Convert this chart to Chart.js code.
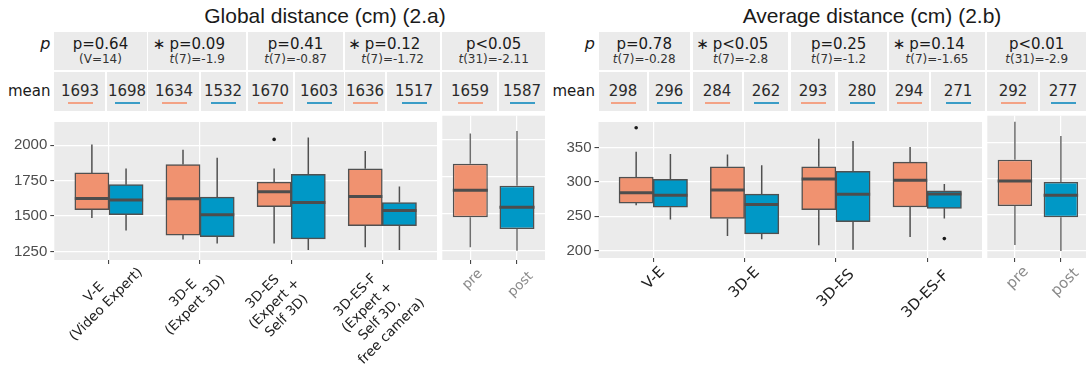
<!DOCTYPE html>
<html><head><meta charset="utf-8">
<script src="https://cdn.jsdelivr.net/npm/chart.js@4.4.1/dist/chart.umd.min.js"></script>
<style>
html,body{margin:0;padding:0;background:#fff;}
#root{position:relative;width:1086px;height:374px;overflow:hidden;font-family:"DejaVu Sans",sans-serif;}
.cell,.ul{position:absolute;background:#EBEBEB;}
.t{position:absolute;line-height:1;white-space:nowrap;color:#1A1A1A;}
.ast{position:absolute;right:100%;margin-right:4px;top:0;}
canvas{position:absolute;}
</style></head><body><div id="root"></div>
<script>
// ---------------- DATA ----------------
const categories = ['V-E','3D-E','3D-ES','3D-ES-F'];
const globalLabels = [['V-E','(Video Expert)'],['3D-E','(Expert 3D)'],['3D-ES','(Expert +','Self 3D)'],['3D-ES-F','(Expert +','Self 3D,','free camera)']];
const averageLabels = ['V-E','3D-E','3D-ES','3D-ES-F'];
const phaseLabels = ['pre','post'];
const globalTicks = [1250,1500,1750,2000];
const averageTicks = [200,250,300,350];
// five-number summaries: [lower whisker, Q1, median, Q3, upper whisker]
const globalPre  = [[1486,1545,1624,1804,2005],[1333,1365,1622,1863,1968],[1306,1566,1671,1739,1836],[1279,1432,1637,1833,1959]];
const globalPost = [[1397,1509,1613,1721,1836],[1306,1353,1509,1633,1912],[1259,1338,1595,1795,2054],[1259,1432,1538,1595,1709]];
const globalPreOut  = [[],[],[2041],[]];
const globalPostOut = [[],[],[],[]];
const globalPhase = [[1275,1478,1660,1840,2043],[1252,1399,1545,1691,2061]];
const averagePre  = [[266,269,284,307,344],[221,246.5,288,322,340],[207.5,259.6,304,322,362.7],[219.6,263.3,302.3,328.7,350.6]];
const averagePost = [[245,263,280.5,303.6,340.4],[216.4,224.2,267,282,324],[201,241.9,282,315.3,359.4],[246.5,261.4,282.3,287,296.7]];
const averagePreOut  = [[378.8],[],[],[]];
const averagePostOut = [[],[],[],[217.3]];
const averagePhase = [[207,261.4,296.2,326,378.8],[198.8,245.7,276.3,295,359]];
// strip texts
const globalP = ['p=0.64','p=0.09','p=0.41','p=0.12','p<0.05'];
const globalStat = ['(V=14)','t(7)=-1.9','t(7)=-0.87','t(7)=-1.72','t(31)=-2.11'];
const globalStar = [false,true,false,true,false];
const globalMeanPre  = [1693,1634,1670,1636,1659];
const globalMeanPost = [1698,1532,1603,1517,1587];
const averageP = ['p=0.78','p<0.05','p=0.25','p=0.14','p<0.01'];
const averageStat = ['t(7)=-0.28','t(7)=-2.8','t(7)=-1.2','t(7)=-1.65','t(31)=-2.9'];
const averageStar = [false,true,false,true,false];
const averageMeanPre  = [298,284,293,294,292];
const averageMeanPost = [296,262,280,271,277];

// ---------------- STYLE / LAYOUT ----------------
const ORANGE = '#F09270', BLUE = '#0098C6';
const UL_ORANGE = '#F3A285', UL_BLUE = '#3A9CC6';
const PANEL_TOP = 115.7, CANVAS_TOP = 110;
const HALVES = [
  { ox:0, title:'Global distance (cm) (2.a)', titleX:325, rowLabelRight:50.5,
    main:{left:54.3,right:440,bottom:260}, side:{left:442.3,right:545,bottom:260,max:1.6},
    yMin:1189, yMax:2164, ticks:globalTicks,
    pCells:[[54.3,146.6],[148.4,246],[247.7,343.5],[345.2,440],[442.3,545]],
    mCells:[[54.3,104.8],[106.6,146.6],[148.4,198.9],[200.6,246],[247.7,293],[295,343.5],[345.2,385.3],[387,440],[442.3,496.8],[498.5,545]],
    P:globalP, stat:globalStat, star:globalStar, mPre:globalMeanPre, mPost:globalMeanPost,
    pre:globalPre, post:globalPost, preOut:globalPreOut, postOut:globalPostOut, phase:globalPhase,
    labels:globalLabels, labelFont:13.5, lh:17,
    mainLabelPos:[[-8.7,38.5],[-10.7,39.5],[-16.4,44],[-8.7,53.5]], sideLabelPos:[[2.2,19.5],[3.7,24.5]] },
  { ox:545, title:'Average distance (cm)  (2.b)', titleX:872, rowLabelRight:595,
    main:{left:598.5,right:985,bottom:258}, side:{left:987.3,right:1086,bottom:258,max:1.546},
    yMin:189, yMax:387.2, ticks:averageTicks,
    pCells:[[598.5,689.9],[692.7,788.3],[790.7,886.6],[889,985],[987.3,1086]],
    mCells:[[598.5,646.8],[648.5,689.9],[692.7,741.7],[744.1,788.3],[790.7,834.9],[837.6,886.6],[889,928.7],[930.8,985],[987.3,1037.8],[1040.2,1086]],
    P:averageP, stat:averageStat, star:averageStar, mPre:averageMeanPre, mPost:averageMeanPost,
    pre:averagePre, post:averagePost, preOut:averagePreOut, postOut:averagePostOut, phase:averagePhase,
    labels:averageLabels, labelFont:15, lh:17,
    mainLabelPos:[[0.7,20.5],[0,24.7],[0,30.3],[-1.6,36.5]], sideLabelPos:[[2.7,20],[4.4,24.5]] }
];

const root = document.getElementById('root');
function el(cls, l, t, w, h, bg){ const d=document.createElement('div'); d.className=cls; d.style.left=l+'px'; d.style.top=t+'px'; d.style.width=w+'px'; d.style.height=h+'px'; if(bg) d.style.background=bg; root.appendChild(d); return d; }
function txt(html, x, base, fs, align, extra){
  const s=document.createElement('span'); s.className='t'; s.innerHTML=html;
  s.style.fontSize=fs+'px'; s.style.top=(base-0.846*fs)+'px'; s.style.left=x+'px';
  s.style.transform = align==='center'?'translateX(-50%)':(align==='right'?'translateX(-100%)':'none');
  if(extra) Object.assign(s.style, extra);
  root.appendChild(s); return s;
}
function addCanvas(l,t,w,h){ const c=document.createElement('canvas'); c.width=w; c.height=h; c.style.left=l+'px'; c.style.top=t+'px'; c.style.width=w+'px'; c.style.height=h+'px'; root.appendChild(c); return c; }

const panelBg = { id:'panelBg', beforeDraw(c){ const a=c.chartArea, x=c.ctx; x.save(); x.fillStyle='#EBEBEB'; x.fillRect(a.left,a.top,a.right-a.left,a.bottom-a.top); x.restore(); } };
// rotated, multi-line (centred) category labels; block centre placed relative to the tick
function xLabelPlugin(labels, colors, fs, lh, pos){
  return { id:'xlabels', afterDraw(chart){
    const ctx=chart.ctx, sx=chart.scales.x, a=chart.chartArea;
    ctx.save(); ctx.font=fs+'px "DejaVu Sans"'; ctx.textAlign='center'; ctx.textBaseline='middle';
    labels.forEach((lab,i)=>{
      const lines=[].concat(lab), n=lines.length;
      const cx=sx.getPixelForValue(i)+pos[i][0], cy=a.bottom+pos[i][1];
      ctx.save(); ctx.translate(cx,cy); ctx.rotate(-Math.PI/4); ctx.fillStyle=colors[i];
      lines.forEach((l,j)=>ctx.fillText(l,0,(j-(n-1)/2)*lh));
      ctx.restore();
    });
    ctx.restore();
  }};
}

function boxDatasets(groups, half, whiskerColor){
  const ds=[];
  groups.forEach(g=>{
    ds.push({type:'bar', data:g.summ.map((s,i)=>({x:i+g.offset, y:[s[1],s[3]]})), backgroundColor:g.color,
      borderColor:'#505050', borderWidth:1.5, borderSkipped:false, grouped:false, barPercentage:g.barPct, categoryPercentage:1, order:3});
    const wh=[]; g.summ.forEach((s,i)=>{ const x=i+g.offset; wh.push({x,y:s[0]},{x,y:s[1]},{x,y:null},{x,y:s[3]},{x,y:s[4]},{x,y:null}); });
    ds.push({type:'line', data:wh, borderColor:whiskerColor, borderWidth:1.5, pointRadius:0, spanGaps:false, fill:false, order:4});
    const md=[]; g.summ.forEach((s,i)=>{ const x=i+g.offset; md.push({x:x-half,y:s[2]},{x:x+half,y:s[2]},{x,y:null}); });
    ds.push({type:'line', data:md, borderColor:'#4D4D4D', borderWidth:3, borderCapStyle:'butt', pointRadius:0, spanGaps:false, fill:false, order:1});
    const out=[]; g.out.forEach((arr,i)=>arr.forEach(v=>out.push({x:i+g.offset,y:v})));
    if(out.length) ds.push({type:'scatter', data:out, pointRadius:1.8, pointBackgroundColor:'#1A1A1A', pointBorderWidth:0, order:0});
  });
  return ds;
}

function makeChart(canvas, o){
  return new Chart(canvas, {
    type:'bar',
    data:{datasets:o.datasets},
    options:{
      responsive:false, animation:false, events:[],
      layout:{padding:o.padding},
      plugins:{legend:{display:false}, tooltip:{enabled:false}},
      scales:{
        x:{type:'linear', min:o.xMin, max:o.xMax, offset:false,
           afterBuildTicks:s=>{ s.ticks=o.xTickVals.map(v=>({value:v})); },
           afterFit:s=>{ s.height=o.xHeight; },
           ticks:{callback:()=>'', maxRotation:0, autoSkip:false},
           grid:{offset:false, color:'#FFFFFF', lineWidth:1.2, drawTicks:true, tickLength:4, tickColor:'#333333', tickWidth:1},
           border:{display:false}},
        y:{type:'linear', min:o.yMin, max:o.yMax,
           afterBuildTicks:s=>{ s.ticks=o.yTicks.map(v=>({value:v})); },
           afterFit:s=>{ s.width=o.yWidth; },
           ticks:{display:o.showY, color:'#4D4D4D', font:{family:'Liberation Sans', size:15}, padding:3, callback:v=>String(v)},
           grid:{color:'#FFFFFF', lineWidth:1.2, drawTicks:o.showY, tickLength:4, tickColor:'#333333', tickWidth:1},
           border:{display:false}}
      }
    },
    plugins:[panelBg, xLabelPlugin(o.labels, o.labelColors, o.labelFont, o.lh, o.labelPos)]
  });
}

HALVES.forEach(h=>{
  txt(h.title, h.titleX, 22.3, 21, 'center', {fontFamily:'"Liberation Sans"', color:'#1A1A1A'});
  txt('p', h.rowLabelRight, 50, 16, 'right', {fontStyle:'italic'});
  txt('mean', h.rowLabelRight, 97, 15, 'right');
  h.pCells.forEach(([a,b],i)=>{
    el('cell', a, 32.3, b-a, 37.7);
    const cx=(a+b)/2;
    const s=txt(h.P[i], cx, 49.2, 15, 'center');
    if(h.star[i]){ const st=document.createElement('span'); st.className='ast'; st.textContent='\u2217'; s.appendChild(st); }
    txt(h.stat[i].replace(/^t/,'<i>t</i>'), cx, 63.5, 12, 'center', {color:'#333333'});
  });
  h.mCells.forEach(([a,b],k)=>{
    el('cell', a, 72.3, b-a, 38.4);
    const cx=Math.round((a+b)/2), i=Math.floor(k/2), isPre=(k%2===0);
    txt(String(isPre?h.mPre[i]:h.mPost[i]), cx, 97, 15, 'center', {color:'#2A2A2A'});
    el('ul', cx-12, 102, 25, 2, isPre?UL_ORANGE:UL_BLUE);
  });
  const mL=h.ox, mW=Math.ceil(h.main.right-h.ox+1), cH=374-CANVAS_TOP;
  makeChart(addCanvas(mL, CANVAS_TOP, mW, cH), {
    datasets: boxDatasets([
      {summ:h.pre, offset:-0.1875, color:ORANGE, out:h.preOut, barPct:1},
      {summ:h.post, offset:0.1875, color:BLUE, out:h.postOut, barPct:1}], 0.1875, '#505050'),
    padding:{top:PANEL_TOP-CANVAS_TOP, left:0, right:mW-(h.main.right-h.ox), bottom:0},
    xMin:-0.6, xMax:3.6, xTickVals:[0,1,2,3], xHeight:374-h.main.bottom,
    yMin:h.yMin, yMax:h.yMax, yTicks:h.ticks, yWidth:h.main.left-h.ox, showY:true,
    labels:h.labels, labelColors:categories.map(()=>'#222222'), labelFont:h.labelFont, lh:h.lh, labelPos:h.mainLabelPos
  });
  const sL=Math.floor(h.side.left)-1, sW=Math.round(h.side.right-sL);
  makeChart(addCanvas(sL, CANVAS_TOP, sW, cH), {
    datasets: boxDatasets([
      {summ:[h.phase[0]], offset:0, color:ORANGE, out:[[]], barPct:0.75},
      {summ:[h.phase[1]], offset:1, color:BLUE, out:[[]], barPct:0.75}], 0.375, '#6E6E6E'),
    padding:{top:PANEL_TOP-CANVAS_TOP, left:h.side.left-sL, right:0, bottom:0},
    xMin:-0.6, xMax:h.side.max, xTickVals:[0,1], xHeight:374-h.side.bottom,
    yMin:h.yMin, yMax:h.yMax, yTicks:h.ticks, yWidth:0, showY:false,
    labels:phaseLabels, labelColors:['#8A8A8A','#8A8A8A'], labelFont:h.labelFont, lh:h.lh, labelPos:h.sideLabelPos
  });
});
</script></body></html>
